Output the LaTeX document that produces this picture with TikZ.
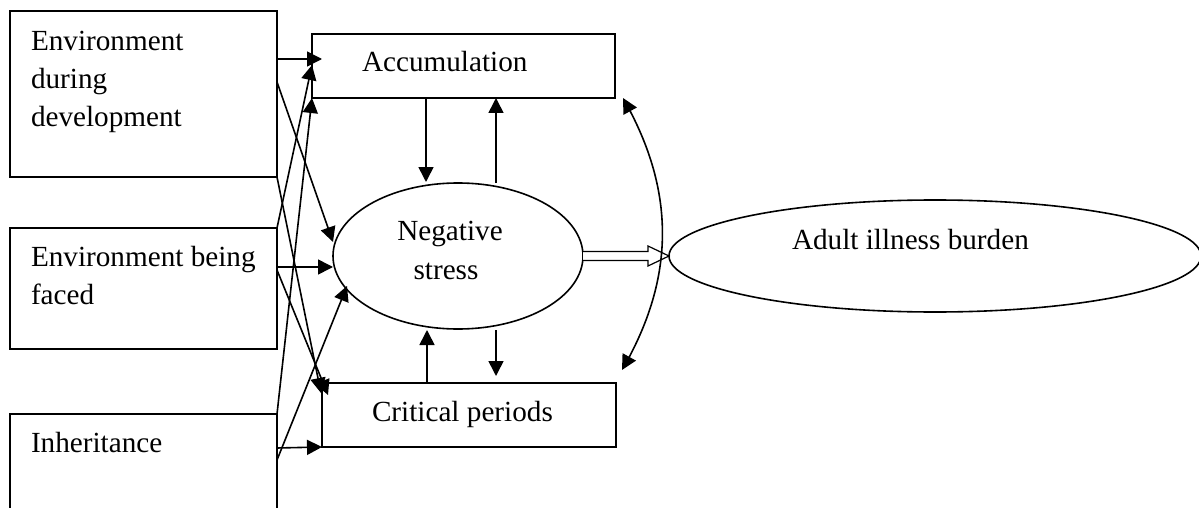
\documentclass[tikz,border=0pt]{standalone}
\usepackage{fontspec}
\setmainfont{Liberation Serif}
\usetikzlibrary{arrows.meta,bending,calc,shapes.geometric}
\begin{document}
\begin{tikzpicture}[x=1pt,y=-1pt,
  box/.style={draw, line width=1.6pt, inner sep=0pt, outer sep=0pt, anchor=north west},
  oval/.style={draw, ellipse, line width=1.6pt, inner sep=0pt, outer sep=0pt},
  txt/.style={anchor=base west, inner sep=0pt, outer sep=0pt, font=\fontsize{29.2}{38}\selectfont},
  ctxt/.style={txt, anchor=base},
  arr/.style={line width=1.6pt, -{Triangle[length=15pt,width=15pt]}},
  darr/.style={line width=1.6pt, {Triangle[length=15pt,width=15pt]}-{Triangle[length=15pt,width=15pt]}}]
\useasboundingbox (0,0) rectangle (1199,508);
\clip (0,0) rectangle (1199,508);

% boxes
\node[box, minimum width=267pt, minimum height=166pt] (e1) at (10,11) {};
\node[box, minimum width=267pt, minimum height=121pt] (e2) at (10,228) {};
\node[box, minimum width=267pt, minimum height=130pt] (e3) at (10,414) {};
\node[box, minimum width=303pt, minimum height=64pt] (acc) at (312,34) {};
\node[box, minimum width=294pt, minimum height=64pt] (crit) at (322,383) {};
\node[oval, minimum width=250pt, minimum height=146pt] (ns) at (458,256) {};
\node[oval, minimum width=532pt, minimum height=112pt] (aib) at (935,256) {};

% texts
\node[txt] (t1a) at (31,51) {Environment};
\node[txt] (t1b) at (31,89) {during};
\node[txt] (t1c) at (31,127) {development};
\node[txt] (t2a) at (31,266) {Environment being};
\node[txt] (t2b) at (31,304) {faced};
\node[txt] (t3) at (31,452) {Inheritance};
\node[txt] (tacc) at (362,72) {Accumulation};
\node[txt] (tcrit) at (372,421) {Critical periods};
\node[ctxt] (tns1) at (450,240) {Negative};
\node[ctxt] (tns2) at (446,279) {stress};
\node[txt] (taib) at (792,249) {Adult illness burden};

% connectors from the three factor boxes
\draw[arr] ($(e1.north east)+(0,48)$) -- ($(acc.north west)+(10,25)$);
\draw[arr] ($(e1.north east)+(0,71)$) -- ($(ns.west)+(0,-14)$);
\draw[arr] (e1.south east) -- ($(crit.north west)+(-1,10)$);
\draw[arr] (e2.north east) -- ($(acc.north west)+(0,31)$);
\draw[arr] ($(e2.north east)+(0,39)$) -- ($(ns.west)+(0,11)$);
\draw[arr] ($(e2.north east)+(0,42)$) -- ($(crit.north west)+(6,12)$);
\draw[arr] (e3.north east) -- (acc.south west);
\draw[arr] ($(e3.north east)+(0,34)$) -- (crit.south west);
\draw[arr] ($(e3.north east)+(0,46)$) -- ($(ns.west)+(14,30)$);

% vertical connectors
\draw[arr] ($(acc.south west)+(114,0)$) -- ($(ns.center)+(-32,-74)$);
\draw[arr] ($(ns.center)+(38,-73)$) -- ($(acc.south west)+(184,0)$);
\draw[arr] ($(crit.north west)+(105,0)$) -- ($(ns.center)+(-31,74)$);
\draw[arr] ($(ns.center)+(38,74)$) -- ($(crit.north west)+(174,-7)$);

% hollow arrow
\draw[line width=1.2pt, fill=white, line join=miter]
  ($(ns.east)+(0,-4.5)$) -- ($(aib.west)+(-21,-4.5)$) -- ($(aib.west)+(-21,-10)$)
  -- (aib.west) -- ($(aib.west)+(-21,10)$) -- ($(aib.west)+(-21,4.5)$)
  -- ($(ns.east)+(0,4.5)$);

% curved double arrow
\draw[darr] ($(acc.south east)+(8,0)$) to[bend left=30] ($(crit.north east)+(6,-13)$);
\end{tikzpicture}
\end{document}
